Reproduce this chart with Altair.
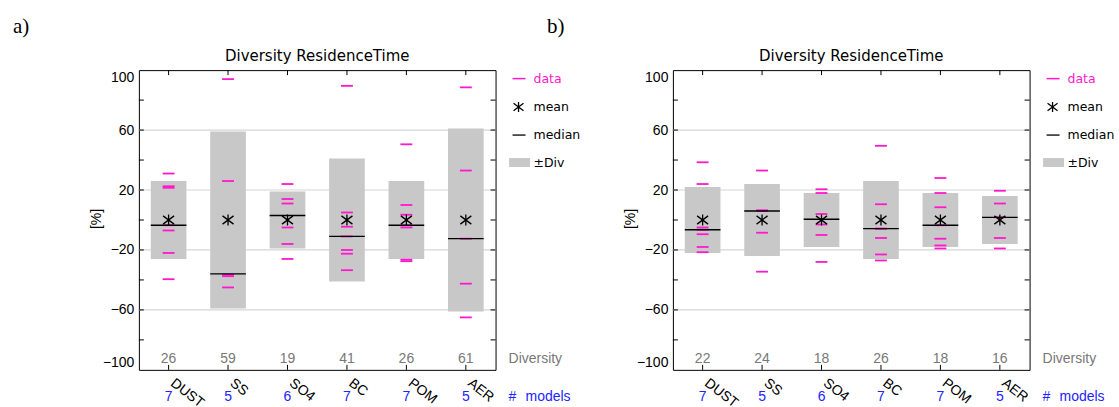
import altair as alt
import pandas as pd

# ---- data -------------------------------------------------------------
categories = ["DUST", "SS", "SO4", "BC", "POM", "AER"]
models = [7, 5, 6, 7, 7, 5]
mean_offset = [0, 0, 0, 0, 0, 0]          # values are relative to the model mean

# panel a
div_a = [26, 59, 19, 41, 26, 61]
median_a = [-3.5, -36, 3, -11, -3.5, -12.5]
models_data_a = [
    [31, 22.5, 21.5, -3.5, -7, -22, -39.5],
    [94, 26, -36.5, -37.5, -45],
    [24, 14, 11, -5, -16, -26],
    [89.5, 5, -4.5, -11, -20, -22.5, -33.5],
    [50.5, 10, 3.5, -3.5, -5, -26.5, -27.5],
    [88.5, 33, -12.5, -42.5, -65],
]

# panel b
div_b = [22, 24, 18, 26, 18, 16]
median_b = [-6.5, 6, 0.5, -5.8, -3.5, 1.8]
models_data_b = [
    [38.5, 24, -5, -6.5, -9.5, -18, -21.5],
    [33, 6.5, 6, -8.5, -34.5],
    [20.5, 18, 4, -3, -10, -28],
    [49.5, 10.5, -5.8, -5.8, -12, -23, -27],
    [28, 18, 8.5, -3.5, -12.5, -17, -19],
    [19.5, 11, 1.8, -12, -19],
]

y_labels = [-100, -60, -20, 20, 60, 100]
y_ticks = [-80, -60, -40, -20, 0, 20, 40, 60, 80]
grid_values = [-60, -20, 20, 60]

# ---- style ------------------------------------------------------------
W, H = 357, 300
MAGENTA = "#ff18cc"
BOX = "#c8c8c8"
GRID = "#d6d6d6"
BLUE = "#2323ff"
GREY_TXT = "#787878"
SANS = "Liberation Sans"
LEG = "DejaVu Sans"
STAR = "M0,-1L0,1M-1,-0.75L1,0.75M-1,0.75L1,-0.75"

XS = alt.Scale(domain=[0.5, 6.5])
YS = alt.Scale(domain=[-100, 100])
YAXIS = alt.Axis(values=y_labels, ticks=False, domain=False, grid=False,
                 labelFont=SANS, labelFontSize=14, labelColor="black",
                 labelPadding=5, labelFlush=True, labelOverlap=False,
                 title=None)
one = pd.DataFrame({"t": [""]})


def yq(field):
    return alt.Y(field, type="quantitative", scale=YS, axis=YAXIS)


def xq(field):
    return alt.X(field, type="quantitative", scale=XS, axis=None)


def note(text, x, y, **kw):
    return alt.Chart(pd.DataFrame({"t": [text]})).mark_text(**kw).encode(
        x=alt.value(x), y=alt.value(y), text="t:N")


def panel(div, med, data, letter, corner):
    summary = pd.DataFrame({
        "pos": list(range(1, 7)), "cat": categories, "div": div,
        "neg": [-d for d in div], "med": med, "mean": mean_offset, "n": models,
    })
    summary["lo"] = summary["pos"] - 0.3
    summary["hi"] = summary["pos"] + 0.3
    ticks = pd.DataFrame([{"pos": i + 1, "v": v}
                          for i, vals in enumerate(data) for v in vals])
    ticks["lo"] = ticks["pos"] - 0.1
    ticks["hi"] = ticks["pos"] + 0.1

    grid = alt.Chart(pd.DataFrame({"g": grid_values})).mark_rule(
        color=GRID, strokeWidth=1.2).encode(
        y=yq("g"), x=alt.value(0), x2=alt.value(W))

    boxes = alt.Chart(summary).mark_rect(color=BOX).encode(
        x=xq("lo"), x2="hi:Q", y=yq("neg"), y2="div:Q")

    dticks = alt.Chart(ticks).mark_rule(color=MAGENTA, strokeWidth=1.8).encode(
        x=xq("lo"), x2="hi:Q", y=yq("v"))

    median = alt.Chart(summary).mark_rule(color="black", strokeWidth=1.3).encode(
        x=xq("lo"), x2="hi:Q", y=yq("med"))

    mean = alt.Chart(summary).mark_point(
        shape=STAR, size=121, filled=False, color="black", strokeWidth=1.3,
        opacity=1).encode(x=xq("pos"), y=yq("mean"))

    # inward frame ticks
    tdf = pd.DataFrame({"y": y_ticks})
    left_t = alt.Chart(tdf).mark_rule(color="black").encode(
        y=yq("y"), x=alt.value(0), x2=alt.value(5))
    right_t = alt.Chart(tdf).mark_rule(color="black").encode(
        y=yq("y"), x=alt.value(W - 5), x2=alt.value(W))
    top_t = alt.Chart(summary).mark_rule(color="black").encode(
        x=xq("pos"), y=alt.value(0), y2=alt.value(5))
    bot_t = alt.Chart(summary).mark_rule(color="black").encode(
        x=xq("pos"), y=alt.value(H - 5), y2=alt.value(H))

    div_txt = alt.Chart(summary).mark_text(
        font=SANS, fontSize=14, color=GREY_TXT, baseline="middle").encode(
        x=xq("pos"), y=alt.value(289), text="div:Q")
    n_txt = alt.Chart(summary).mark_text(
        font=SANS, fontSize=14, color=BLUE, baseline="middle").encode(
        x=xq("pos"), y=alt.value(327), text="n:Q")
    cat_txt = alt.Chart(summary).mark_text(
        font=SANS, fontSize=14, color="black", angle=38, align="left",
        baseline="top", dx=10).encode(
        x=xq("pos"), y=alt.value(300), text="cat:N")

    # legend
    legend = [
        alt.Chart(one).mark_rule(color=MAGENTA, strokeWidth=1.5).encode(
            x=alt.value(W + 17), x2=alt.value(W + 30), y=alt.value(8.5)),
        note("data", W + 38, 8.5, font=LEG, fontSize=12.5, color=MAGENTA,
             align="left", baseline="middle"),
        alt.Chart(one).mark_point(shape=STAR, size=100, filled=False,
                                  color="black", strokeWidth=1.3, opacity=1).encode(
            x=alt.value(W + 23), y=alt.value(37)),
        note("mean", W + 38, 37, font=LEG, fontSize=12.5, color="black",
             align="left", baseline="middle"),
        alt.Chart(one).mark_rule(color="black", strokeWidth=1.3).encode(
            x=alt.value(W + 17), x2=alt.value(W + 30), y=alt.value(65)),
        note("median", W + 38, 65, font=LEG, fontSize=12.5, color="black",
             align="left", baseline="middle"),
        alt.Chart(one).mark_rect(color=BOX).encode(
            x=alt.value(W + 13.5), x2=alt.value(W + 34.5),
            y=alt.value(88), y2=alt.value(97)),
        note("\u00b1Div", W + 38, 92.5, font=LEG, fontSize=12.5, color="black",
             align="left", baseline="middle"),
    ]

    side = [
        note("Diversity", W + 13, 289, font=SANS, fontSize=14, color=GREY_TXT,
             align="left", baseline="middle"),
        note("#", W + 13, 327, font=SANS, fontSize=14, color=BLUE,
             align="left", baseline="middle"),
        note("models", W + 30, 327, font=SANS, fontSize=14, color=BLUE,
             align="left", baseline="middle"),
        note("Diversity ResidenceTime", W / 2, -14, font=LEG, fontSize=15,
             color="black", align="center", baseline="middle"),
        note("[%]", -41.5, 149, font=SANS, fontSize=14, color="black",
             angle=270, align="center", baseline="middle"),
        note(letter, -126, -54, font="Liberation Serif", fontSize=21,
             color="black", align="left", baseline="top"),
    ]

    # fixes the outer extent of the page
    cx, cy = corner
    anchor = alt.Chart(one).mark_rect(opacity=0).encode(
        x=alt.value(cx), x2=alt.value(cx + 0.5),
        y=alt.value(cy), y2=alt.value(cy + 0.5))

    layers = [grid, boxes, dticks, median, mean, left_t, right_t, top_t, bot_t,
              div_txt, n_txt, cat_txt] + legend + side + [anchor]
    return alt.layer(*layers).properties(width=W, height=H)


left = panel(div_a, median_a, models_data_a, "a)", (-138.5, -69))
right = panel(div_b, median_b, models_data_b, "b)", (445.5, 337.5))

chart = alt.hconcat(left, right, spacing=177.5, bounds="flush").properties(
    padding=0, background="white"
).configure_view(stroke="black", strokeWidth=1)

chart.save("out.html", embed_options={"renderer": "svg", "actions": False})
